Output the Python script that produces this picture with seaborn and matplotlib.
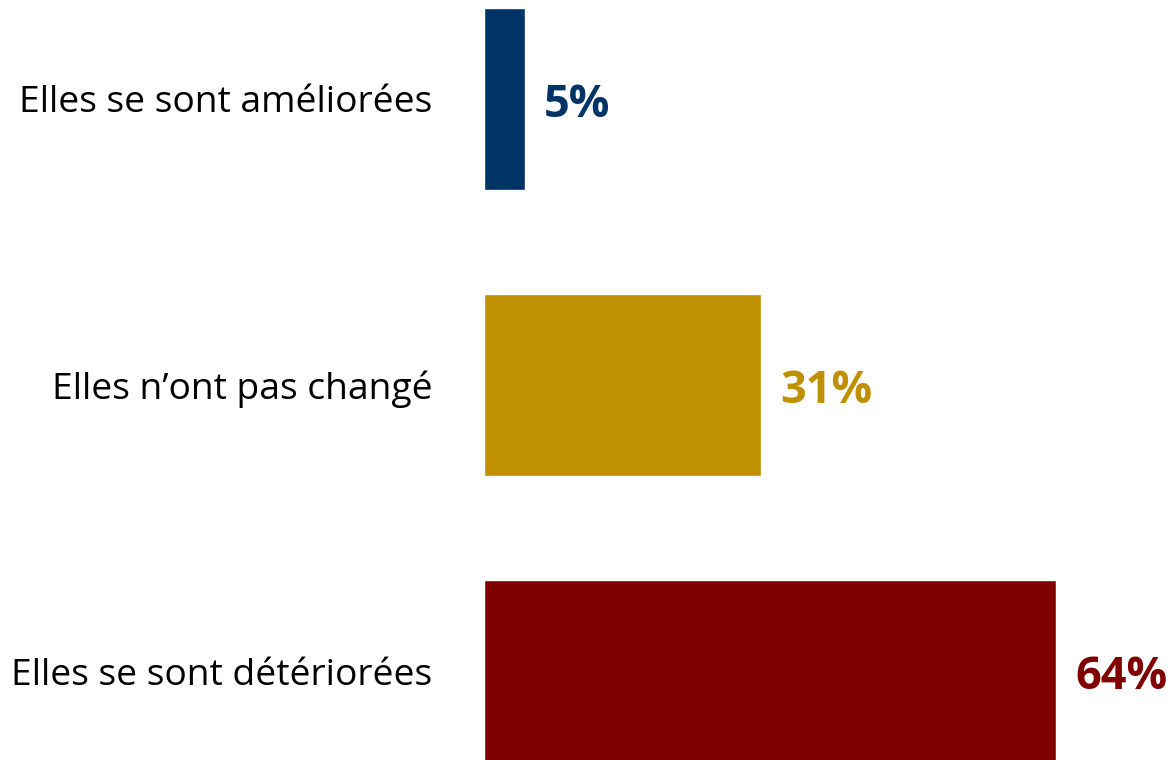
import matplotlib
matplotlib.use("Agg")
import matplotlib.pyplot as plt
import seaborn as sns
import pandas as pd

categories = ["Elles se sont améliorées", "Elles n’ont pas changé", "Elles se sont détériorées"]
values = [4.6, 31, 64]
value_labels = ["5%", "31%", "64%"]
colors = ["#003366", "#BF9000", "#800000"]

sns.set_theme(style="white")
plt.rcParams['font.family'] = ['Open Sans', 'DejaVu Sans']

df = pd.DataFrame({"cat": categories, "val": values})

fig = plt.figure(figsize=(11.71, 7.6), dpi=100)
ax = fig.add_axes([484 / 1171, 0, 626 / 1171, 1])
sns.barplot(data=df, x="val", y="cat", hue="cat", palette=colors, legend=False,
            orient="h", width=0.635, ax=ax, saturation=1)
ax.set_xlim(0, 70)
ax.set_ylim(2.311, -0.346)
ax.set_xlabel("")
ax.set_ylabel("")
ax.set_xticks([])
for s in ax.spines.values():
    s.set_visible(False)
ax.tick_params(axis="y", length=0, pad=37, labelsize=26.8, labelcolor="black")

for i, (v, lab, c) in enumerate(zip(values, value_labels, colors)):
    ax.text(v + 2.1, i + 0.022, lab, color=c, fontsize=32.5, fontweight="bold",
            va="center", ha="left", clip_on=False)

fig.savefig("out.png", dpi=100)
